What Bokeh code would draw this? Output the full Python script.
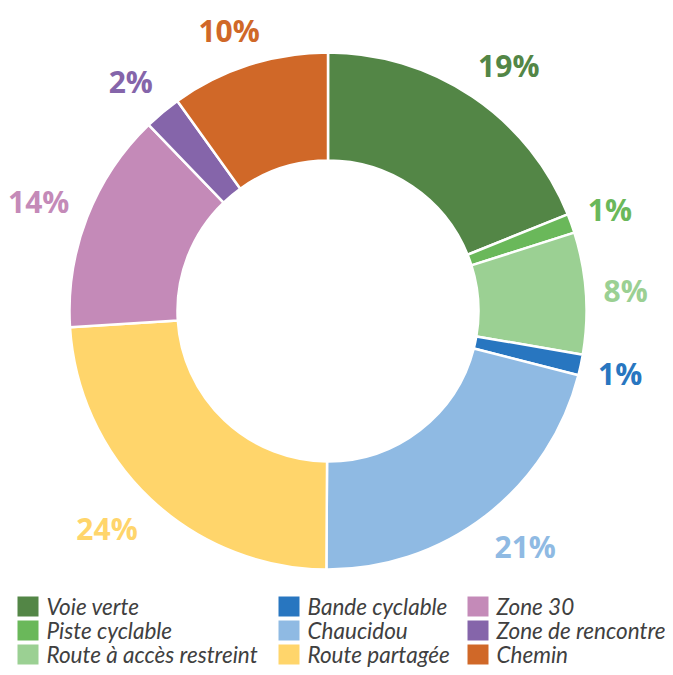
import math
from bokeh.plotting import figure
from bokeh.models import Range1d, ColumnDataSource
from bokeh.core.properties import value
from bokeh.embed import file_html
from bokeh.resources import INLINE

# ---- data ----
categories = ["Voie verte", "Piste cyclable", "Route à accès restreint",
              "Bande cyclable", "Chaucidou", "Route partagée",
              "Zone 30", "Zone de rencontre", "Chemin"]
shares = [18.9, 1.2, 7.6, 1.3, 21.1, 23.9, 13.8, 2.3, 9.9]
labels = ["19%", "1%", "8%", "1%", "21%", "24%", "14%", "2%", "10%"]
colors = ["#538646", "#6ab85a", "#9bd093", "#2876c0", "#8fbae3",
          "#ffd56b", "#c48ab8", "#8565aa", "#d06828"]

# ---- layout (pixel-like data space: x = px, y = 675 - px) ----
W, H = 665, 667
p = figure(width=W, height=H, output_backend="svg", toolbar_location=None,
           x_range=Range1d(0, W), y_range=Range1d(675 - H, 675),
           min_border=0, outline_line_color=None)
p.axis.visible = False
p.grid.visible = False
p.background_fill_color = "white"

cx, cy = 327.5, 675 - 310.5
r_out, r_in = 258.5, 150.5
gap = 20
lab_size = 30
lab_h = 30


def clamp(v):
    return max(-1.0, min(1.0, v))


total = sum(shares)
starts, ends, lx, ly = [], [], [], []
acc = 0.0
for s, lab in zip(shares, labels):
    a0 = math.pi / 2 - acc / total * 2 * math.pi
    acc += s
    a1 = math.pi / 2 - acc / total * 2 * math.pi
    starts.append(a0)
    ends.append(a1)
    mid = (a0 + a1) / 2
    c, sn = math.cos(mid), math.sin(mid)
    w = len(lab) * 0.66 * lab_size
    lx.append(cx + (r_out + gap) * c + w / 2 * clamp(1.5 * c))
    ly.append(cy + (r_out + gap) * sn + lab_h / 2 * clamp(1.5 * sn))

src = ColumnDataSource(dict(start=starts, end=ends, color=colors,
                            lx=lx, ly=ly, label=labels))
p.annular_wedge(x=cx, y=cy, inner_radius=r_in, outer_radius=r_out,
                start_angle="start", end_angle="end", direction="clock",
                fill_color="color", line_color="white", line_width=2.5,
                source=src)
p.text(x="lx", y="ly", text="label", text_color="color", source=src,
       text_font=value("Open Sans"), text_font_style="bold",
       text_font_size=f"{lab_size}px", text_align="center",
       text_baseline="middle")

# ---- legend ----
col_x = [17, 278, 467]
row_y = [606, 630, 654]
sq_x, sq_y, tx, ty = [], [], [], []
for i, name in enumerate(categories):
    c, r = i // 3, i % 3
    sq_x.append(col_x[c] + 10.5)
    sq_y.append(675 - row_y[r])
    tx.append(col_x[c] + 29)
    ty.append(675 - row_y[r])
lsrc = ColumnDataSource(dict(x=sq_x, y=sq_y, tx=tx, ty=ty,
                             color=colors, name=categories))
p.rect(x="x", y="y", width=21, height=20, fill_color="color",
       line_color=None, source=lsrc)
p.text(x="tx", y="ty", text="name", text_color="#404040", source=lsrc,
       text_font=value("Lato"), text_font_style="italic",
       text_font_size="22.5px", text_align="left", text_baseline="middle")

open("out.html", "w").write(file_html(p, INLINE))
